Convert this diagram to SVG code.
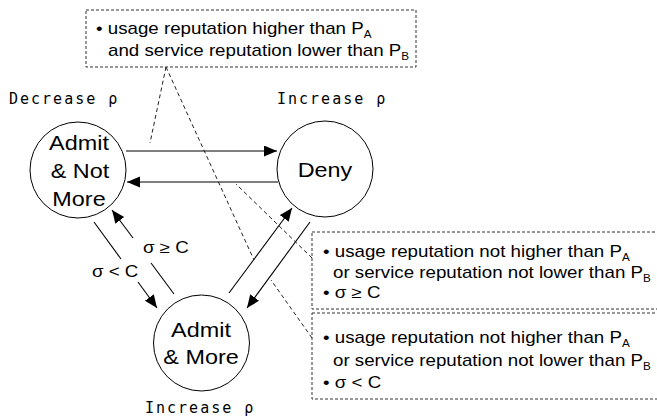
<svg xmlns="http://www.w3.org/2000/svg" width="657" height="419" viewBox="0 0 657 419">
<style>
.bg{fill:#fff}
.node{fill:#fff;stroke:#000;stroke-width:1}
.lbl{font-family:"Liberation Sans",Arial,sans-serif;font-size:20px;fill:#000}
.txt{font-family:"Liberation Sans",Arial,sans-serif;font-size:16px;fill:#000}
.sub{font-size:10px}
.mono{font-family:"DejaVu Sans Mono",monospace;font-size:15px;letter-spacing:2px;fill:#000}
.box{fill:none;stroke:#333;stroke-width:1;stroke-dasharray:3,2}
.call{fill:none;stroke:#222;stroke-width:1;stroke-dasharray:4,3}
.arr{fill:none;stroke:#000;stroke-width:1.1}
.arrh{fill:none;stroke:#000;stroke-width:1.1;marker-end:url(#ah)}
</style>
<defs>
<marker id="ah" markerUnits="userSpaceOnUse" markerWidth="14" markerHeight="12" refX="13" refY="5.5" orient="auto">
<path d="M0,0 L13,5.5 L0,11 z" fill="#000"/>
</marker>
</defs>
<rect class="bg" x="0" y="0" width="657" height="419"/>

<g id="connectors">
<line class="arrh" x1="126" y1="151" x2="277" y2="151"/>
<line class="arrh" x1="278" y1="182" x2="127" y2="182"/>
<line class="arr" x1="94" y1="222" x2="121" y2="259"/>
<line class="arrh" x1="138" y1="282" x2="157" y2="308"/>
<line class="arr" x1="174" y1="294" x2="151" y2="263"/>
<line class="arrh" x1="133" y1="238" x2="112" y2="210"/>
<line class="arrh" x1="229" y1="293" x2="292" y2="208"/>
<line class="arrh" x1="310" y1="222" x2="247" y2="308"/>
<text class="txt" transform="translate(143,253) scale(1.17,1)">σ ≥ C</text>
<text class="txt" transform="translate(92,277) scale(1.17,1)">σ &lt; C</text>
</g>

<g id="callouts">
<line class="call" x1="166" y1="67" x2="150" y2="143"/>
<line class="call" x1="166" y1="67" x2="254" y2="260"/>
<line class="call" x1="312" y1="258" x2="236" y2="184"/>
<line class="call" x1="312" y1="338" x2="271" y2="280"/>
</g>

<g id="note-top">
<rect class="box" x="86" y="10" width="330" height="57"/>
<text class="txt" transform="translate(96,34) scale(1.17,1)">• usage reputation higher than P<tspan class="sub" dy="4">A</tspan></text>
<text class="txt" transform="translate(108,56) scale(1.17,1)">and service reputation lower than P<tspan class="sub" dy="4">B</tspan></text>
</g>

<g id="note-ge">
<rect class="box" x="312" y="232" width="360" height="77"/>
<text class="txt" transform="translate(323,257) scale(1.17,1)">• usage reputation not higher than P<tspan class="sub" dy="4">A</tspan></text>
<text class="txt" transform="translate(333,278) scale(1.17,1)">or service reputation not lower than P<tspan class="sub" dy="4">B</tspan></text>
<text class="txt" transform="translate(323,298) scale(1.17,1)">• σ ≥ C</text>
</g>

<g id="note-lt">
<rect class="box" x="312" y="313" width="360" height="86"/>
<text class="txt" transform="translate(323,343) scale(1.17,1)">• usage reputation not higher than P<tspan class="sub" dy="4">A</tspan></text>
<text class="txt" transform="translate(333,366) scale(1.17,1)">or service reputation not lower than P<tspan class="sub" dy="4">B</tspan></text>
<text class="txt" transform="translate(323,388) scale(1.17,1)">• σ &lt; C</text>
</g>

<g id="admit-not-more">
<circle class="node" cx="78" cy="170" r="48"/>
<text class="lbl" text-anchor="middle" transform="translate(79,150) scale(1.17,1)">Admit</text>
<text class="lbl" text-anchor="middle" transform="translate(80,178) scale(1.17,1)">&amp; Not</text>
<text class="lbl" text-anchor="middle" transform="translate(79,206) scale(1.17,1)">More</text>
<text class="mono" x="9" y="104">Decrease ρ</text>
</g>

<g id="deny">
<circle class="node" cx="325" cy="169" r="48"/>
<text class="lbl" text-anchor="middle" transform="translate(325,177) scale(1.17,1)">Deny</text>
<text class="mono" x="277" y="104">Increase ρ</text>
</g>

<g id="admit-more">
<circle class="node" cx="201.5" cy="343" r="48"/>
<text class="lbl" text-anchor="middle" transform="translate(201,337) scale(1.17,1)">Admit</text>
<text class="lbl" text-anchor="middle" transform="translate(201,364) scale(1.17,1)">&amp; More</text>
<text class="mono" x="145" y="413">Increase ρ</text>
</g>
</svg>
